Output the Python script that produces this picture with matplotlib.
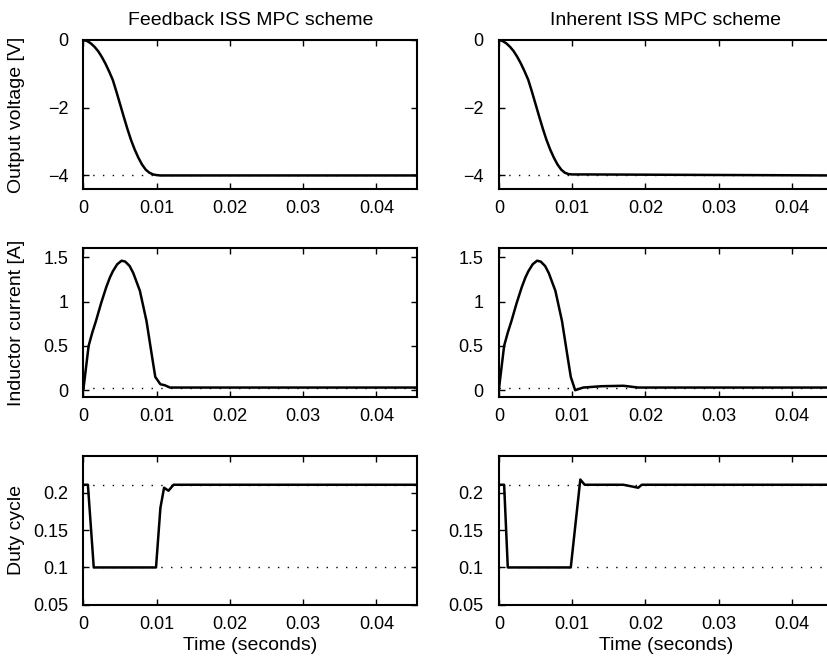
import numpy as np
import matplotlib
matplotlib.use("Agg")
import matplotlib.pyplot as plt

plt.rcParams['font.family'] = ['Liberation Sans', 'DejaVu Sans']
plt.rcParams['font.size'] = 13

T_END = 0.0456

# Output voltage [V]
t_v = [0, 0.0005, 0.001, 0.0015, 0.002, 0.0025, 0.003, 0.0035, 0.004, 0.0045, 0.005,
       0.0055, 0.006, 0.0065, 0.007, 0.0075, 0.008, 0.0085, 0.009, 0.0095, 0.010,
       0.0105, 0.012, T_END]
v_fb = [0, -0.03, -0.1, -0.2, -0.33, -0.5, -0.7, -0.93, -1.18, -1.53, -1.9,
        -2.27, -2.63, -2.96, -3.24, -3.48, -3.68, -3.83, -3.92, -3.97, -3.99,
        -4.0, -4.0, -4.0]
v_in = [0, -0.03, -0.1, -0.2, -0.33, -0.5, -0.7, -0.93, -1.18, -1.53, -1.9,
        -2.27, -2.63, -2.96, -3.24, -3.48, -3.68, -3.83, -3.92, -3.96, -3.97,
        -3.97, -3.97, -4.0]
v_ref = -4.0

# Inductor current [A]
t_i_fb = [0, 0.0007, 0.0012, 0.0017, 0.0024, 0.0031, 0.0036, 0.004, 0.0046, 0.0052, 0.0057,
          0.0063, 0.0068, 0.0077, 0.0086, 0.0093, 0.0098, 0.0105, 0.0111, 0.0118, T_END]
i_fb = [0.02, 0.5, 0.65, 0.78, 0.98, 1.16, 1.27, 1.34, 1.42, 1.46, 1.45,
        1.4, 1.32, 1.12, 0.78, 0.41, 0.15, 0.067, 0.056, 0.03, 0.03]
t_i_in = [0, 0.0007, 0.0012, 0.0017, 0.0024, 0.0031, 0.0036, 0.004, 0.0046, 0.0052, 0.0057,
          0.0063, 0.0068, 0.0077, 0.0086, 0.0093, 0.0098, 0.0104, 0.0115, 0.014, 0.017, 0.019, T_END]
i_in = [0.02, 0.5, 0.65, 0.78, 0.98, 1.16, 1.27, 1.34, 1.42, 1.46, 1.45,
        1.4, 1.32, 1.12, 0.78, 0.41, 0.15, 0.0, 0.03, 0.045, 0.05, 0.03, 0.03]
i_ref = 0.03

# Duty cycle
t_d_fb = [0, 0.0006, 0.0014, 0.0099, 0.0105, 0.011, 0.0116, 0.0123, T_END]
d_fb = [0.211, 0.211, 0.1, 0.1, 0.18, 0.207, 0.203, 0.211, 0.211]
t_d_in = [0, 0.0007, 0.0012, 0.0098, 0.0111, 0.0117, 0.017, 0.019, 0.0195, T_END]
d_in = [0.211, 0.211, 0.1, 0.1, 0.218, 0.211, 0.211, 0.207, 0.211, 0.211]
d_max, d_min = 0.211, 0.1

titles = ["Feedback ISS MPC scheme", "Inherent ISS MPC scheme"]
ylabels = ["Output voltage [V]", "Inductor current [A]", "Duty cycle"]
xticks = [0, 0.01, 0.02, 0.03, 0.04]
xticklabels = ["0", "0.01", "0.02", "0.03", "0.04"]

fig = plt.figure(figsize=(8.28, 6.6), dpi=100)
W, H = 828, 660
lefts = [83.5, 499]
width = 334
tops = [40, 248.3, 455.7]
height = 149

series = [
    [(t_v, v_fb), (t_v, v_in)],
    [(t_i_fb, i_fb), (t_i_in, i_in)],
    [(t_d_fb, d_fb), (t_d_in, d_in)],
]
ylims = [(-4.4, 0), (-0.08, 1.6), (0.05, 0.25)]
yticks = [[-4, -2, 0], [0, 0.5, 1, 1.5], [0.05, 0.1, 0.15, 0.2]]
yticklabels = [["\u22124", "\u22122", "0"], ["0", "0.5", "1", "1.5"], ["0.05", "0.1", "0.15", "0.2"]]
refs = [[v_ref], [i_ref], [d_max, d_min]]

for r in range(3):
    for c in range(2):
        ax = fig.add_axes([lefts[c] / W, 1 - (tops[r] + height) / H, width / W, height / H])
        for ref in refs[r]:
            ax.plot([0, T_END], [ref, ref], color='black', linestyle=(0, (1, 6)), linewidth=1.0)
        t, y = series[r][c]
        ax.plot(t, y, color='black', linewidth=1.8, solid_joinstyle='round')
        ax.set_xlim(0, T_END)
        ax.set_ylim(*ylims[r])
        ax.set_xticks(xticks)
        ax.set_xticklabels(xticklabels)
        ax.set_yticks(yticks[r])
        ax.set_yticklabels(yticklabels[r])
        ax.tick_params(direction='in', top=True, right=True, length=4, width=1)
        ax.tick_params(axis='x', pad=8)
        ax.tick_params(axis='y', pad=11)
        for s in ax.spines.values():
            s.set_linewidth(1.5)
        if r == 0:
            ax.set_title(titles[c], fontsize=14, pad=11)
        if c == 0:
            ax.set_ylabel(ylabels[r], fontsize=14)
            ax.yaxis.set_label_coords(-0.175, 0.5)
        if r == 2:
            ax.set_xlabel("Time (seconds)", fontsize=14, labelpad=3)

fig.savefig("out.png", dpi=100)
